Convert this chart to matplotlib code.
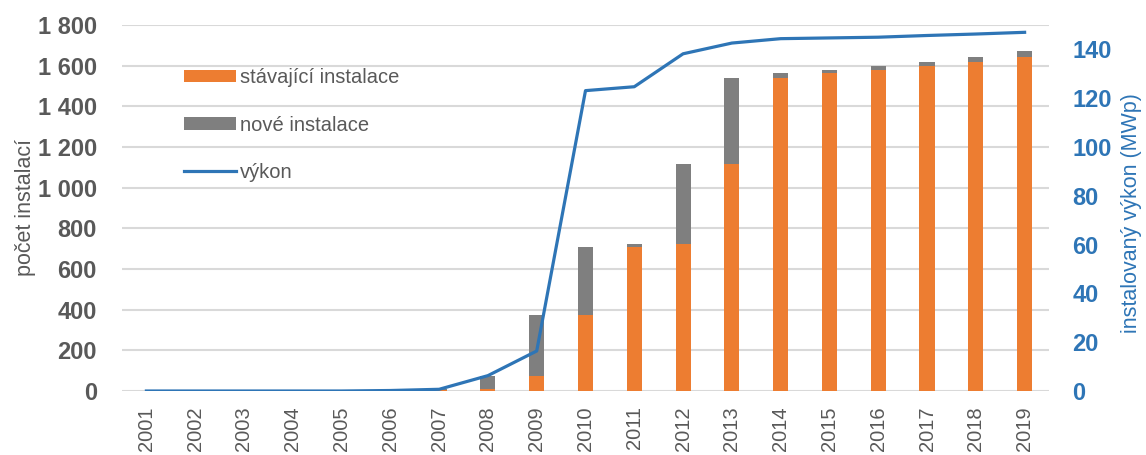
import matplotlib
matplotlib.use('Agg')
import matplotlib.pyplot as plt
import numpy as np

years = [str(y) for y in range(2001, 2020)]
# number of installations: existing (previous years) and new in the given year
existing = [0, 0, 0, 0, 0, 0, 3, 12, 75, 374, 710, 725, 1115, 1537, 1563, 1581, 1597, 1620, 1642]
new = [0, 0, 0, 0, 0, 0, 7, 63, 299, 336, 15, 390, 422, 26, 18, 16, 23, 22, 29]
# installed power (MWp)
power = [0, 0, 0, 0, 0, 0.2, 0.7, 6.3, 16.4, 123.1, 124.7, 138.2, 142.6, 144.4, 144.7, 145.0, 145.7, 146.3, 147.0]

orange = '#ed7d31'
grey = '#7f7f7f'
blue = '#2e75b6'
txt = '#595959'

plt.rcParams['font.family'] = ['Liberation Sans', 'DejaVu Sans']

fig = plt.figure(figsize=(11.46, 4.55), dpi=100)
ax = fig.add_axes([122 / 1146, 64 / 455, 927 / 1146, 366 / 455])
ax2 = ax.twinx()

x = np.arange(len(years))
ax.bar(x, existing, width=0.31, color=orange, label='stávající instalace', zorder=2)
ax.bar(x, new, width=0.31, bottom=existing, color=grey, label='nové instalace', zorder=2)
ax2.plot(x, power, color=blue, lw=2.3, label='výkon', zorder=3)

ax.set_xlim(-0.5, len(years) - 0.5)
ax.set_ylim(0, 1800)
ax.set_yticks(range(0, 1801, 200))
ax.set_yticklabels([f'{v:,}'.replace(',', ' ') for v in range(0, 1801, 200)],
                   fontsize=17, fontweight='bold', color=txt)
ax.set_xticks(x)
ax.set_xticklabels(years, rotation=90, fontsize=14.5, color=txt)
ax.tick_params(axis='x', length=0, pad=11)
ax.tick_params(axis='y', length=0, pad=18)
ax.grid(axis='y', color='#d9d9d9', lw=1.5, zorder=0)
ax.set_axisbelow(True)
ax.set_ylabel('počet instalací', fontsize=15.5, color=txt)
ax.yaxis.set_label_coords(-0.093, 0.5)

ax2.set_ylim(0, 150)
ax2.set_yticks(range(0, 141, 20))
ax2.set_yticklabels([str(v) for v in range(0, 141, 20)],
                    fontsize=17, fontweight='bold', color=blue)
ax2.tick_params(axis='y', length=0, pad=17)
ax2.set_ylabel('instalovaný výkon (MWp)', fontsize=15.5, color=blue)
ax2.yaxis.set_label_coords(1.078, 0.485)

for a in (ax, ax2):
    for s in a.spines.values():
        s.set_visible(False)

h1, l1 = ax.get_legend_handles_labels()
h2, l2 = ax2.get_legend_handles_labels()
ax2.legend(h1 + h2, l1 + l2, loc='upper left', bbox_to_anchor=(0.047, 0.932),
           frameon=False, fontsize=14.5, labelcolor=txt, handlelength=2.6,
           handletextpad=0.2, labelspacing=1.42, handleheight=0.6)

fig.savefig('out.png', dpi=100)
